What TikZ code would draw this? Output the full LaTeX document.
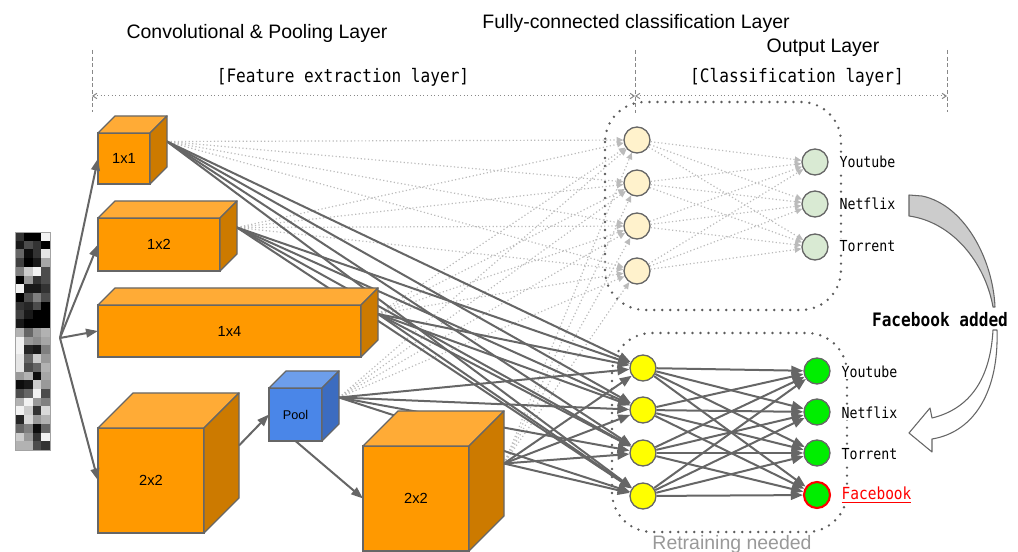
\documentclass[tikz,border=0pt]{standalone}
\usepackage{fontspec}
\setmainfont{Liberation Sans}
\setmonofont[FakeStretch=0.87]{DejaVu Sans Mono}
\usetikzlibrary{arrows.meta,calc,backgrounds}

\definecolor{orfront}{HTML}{FF9900}
\definecolor{ortop}{HTML}{FFAB36}
\definecolor{orside}{HTML}{CC7A00}
\definecolor{blfront}{HTML}{4A86E8}
\definecolor{bltop}{HTML}{6D9EEB}
\definecolor{blside}{HTML}{3C6CC0}
\definecolor{edgegray}{HTML}{666666}
\definecolor{weakgray}{HTML}{BBBBBB}
\definecolor{dimgray}{HTML}{888888}
\definecolor{cream}{HTML}{FFF2CC}
\definecolor{palegreen}{HTML}{D9EAD3}
\definecolor{hotgreen}{HTML}{00EE00}
\definecolor{hotyellow}{HTML}{FFFF00}
\definecolor{retgray}{HTML}{999999}
\definecolor{fbred}{HTML}{FF0000}

\begin{document}
\begin{tikzpicture}[x=0.75pt,y=-0.75pt]
		\tikzset{neuron/.style = {shape=circle, draw=edgegray, line width=1pt, minimum size=19.5pt, inner sep=0pt},
			box/.style = {anchor=north west, draw=edgegray, line width=1pt, inner sep=0pt, outer sep=0pt, font=\fontsize{11}{13}\selectfont},
			face/.style = {draw=edgegray, line width=1pt, line join=round},
			conn/.style = {draw=edgegray, line width=1.5pt, -{Triangle[length=9pt,width=7pt]}},
			weak/.style = {draw=weakgray, line width=0.9pt, dash pattern=on 0.9pt off 1.8pt, -{Triangle[length=5pt,width=4.5pt]}},
			feed/.style = {draw=edgegray, line width=1.5pt, -{Triangle[length=9pt,width=6.5pt]}},
			groupbox/.style = {draw=edgegray!90!black, line width=2pt, line cap=round, dash pattern=on 0pt off 6pt, rounded corners=30pt},
			dimline/.style = {draw=dimgray, line width=0.75pt, dash pattern=on 3pt off 2pt},
			dimarrow/.style = {draw=dimgray, line width=0.75pt, dotted, {Straight Barb[length=3pt,width=4pt]}-{Straight Barb[length=3pt,width=4pt]}},
			title/.style = {font=\fontsize{14.6}{17}\selectfont},
			bracket/.style = {font=\ttfamily\fontsize{13.9}{16}\selectfont},
			cls/.style = {anchor=west, fill=white, inner sep=1pt, font=\ttfamily\fontsize{11.4}{13}\selectfont}}

		\useasboundingbox (0,0) rectangle (1018,552);

		% titles
		\node[title] (T_1) at (257,33) {Convolutional \& Pooling Layer};
		\node[title] (T_2) at (636,23) {Fully-connected classification Layer};
		\node[title] (T_3) at (823,48) {Output Layer};
		\node[bracket] (B_1) at (343,77) {[Feature extraction layer]};
		\node[bracket] (B_2) at (797,77) {[Classification layer]};

		\draw[dimline] (92,50) -- (92,112);
		\draw[dimline] (635,50) -- (635,113);
		\draw[dimline] (947,50) -- (947,112);
		\coordinate (D_1) at (92,96);
		\coordinate (D_2) at (635,96);
		\coordinate (D_3) at (947,96);
		\draw[dimarrow] (D_1) -- (D_2);
		\draw[dimarrow] (D_2) -- (D_3);

		% input column
		\foreach \row [count=\r] in {{80,100,100,5},{90,70,80,100},{60,95,80,10},{75,100,90,35},{50,20,5,70},
			{100,40,80,70},{5,90,90,80},{100,70,50,70},{80,85,70,100},{75,90,100,100},{90,100,100,100},
			{30,60,40,30},{5,40,45,35},{5,85,90,50},{10,60,20,40},{10,70,60,30},{40,30,95,35},{95,90,20,40},
			{70,60,5,70},{30,5,40,50},{5,20,80,15},{85,15,40,30},{60,50,95,60},{20,40,80,5},{30,30,70,80}}
			\foreach \v [count=\col] in \row
				\fill[black!\v] ({15+(\col-1)*8.75},{232+(\r-1)*8.72}) rectangle ++(8.75,8.72);
		\draw[edgegray!60, line width=0.6pt] (15,232) rectangle (50,450);
		\coordinate (In) at (60,338);

		% conv and pooling blocks
		\foreach \nm/\px/\py/\cw/\ch/\cd/\cf/\ct/\cs/\lbl in {
			1/98/133/52/51/17/orfront/ortop/orside/1x1,
			2/98/218/122/53/17/orfront/ortop/orside/1x2,
			3/98/305/263/52/17/orfront/ortop/orside/1x4,
			4/98/428/106/105/35/orfront/ortop/orside/2x2,
			5/269/388/53/53/17/blfront/bltop/blside/{\fontsize{9.5}{11}\selectfont Pool},
			6/363/446/106/105/35/orfront/ortop/orside/2x2}
		{
			\node[box, fill=\cf, minimum width={\cw*0.75pt}, minimum height={\ch*0.75pt}] (C_\nm) at (\px,\py) {\lbl};
			\draw[face, fill=\ct] (C_\nm.north west) -- ++(\cd,-\cd) -- ++(\cw,0) -- (C_\nm.north east) -- cycle;
			\draw[face, fill=\cs] (C_\nm.north east) -- ++(\cd,-\cd) -- ++(0,\ch) -- (C_\nm.south east) -- cycle;
			\coordinate (S_\nm) at ($(C_\nm.east)+(\cd,-\cd)$);
		}

		\draw[feed] (In) -- (C_1.west);
		\draw[feed] (In) -- (C_2.west);
		\draw[feed] (In) -- (C_3.west);
		\draw[feed] (In) -- (C_4.west);
		\draw[feed] (S_4) -- (C_5.west);
		\draw[feed] (C_5.south) -- (C_6.west);

		% old network
		\node[neuron, fill=cream] (H_1) at (637,140) {};
		\node[neuron, fill=cream] (H_2) at (637,183) {};
		\node[neuron, fill=cream] (H_3) at (637,226) {};
		\node[neuron, fill=cream] (H_4) at (637,271) {};

		\node[neuron, fill=palegreen] (O_1) at (815,162) {};
		\node[neuron, fill=palegreen] (O_2) at (815,204) {};
		\node[neuron, fill=palegreen] (O_3) at (815,247) {};

		% retrained network
		\node[neuron, fill=hotyellow] (R_1) at (643,368) {};
		\node[neuron, fill=hotyellow] (R_2) at (643,410) {};
		\node[neuron, fill=hotyellow] (R_3) at (643,453) {};
		\node[neuron, fill=hotyellow] (R_4) at (643,496) {};

		\node[neuron, fill=hotgreen] (P_1) at (817,371) {};
		\node[neuron, fill=hotgreen] (P_2) at (817,412) {};
		\node[neuron, fill=hotgreen] (P_3) at (817,453) {};
		\node[neuron, fill=hotgreen, draw=fbred, line width=1.6pt] (P_4) at (817,495) {};

		\begin{pgfonlayer}{background}
			\draw[groupbox] (605,102) rectangle (841,310);
			\draw[groupbox] (612,333) rectangle (847,532);
			\foreach \s in {1,2,3,5,6}
				\foreach \k in {1,...,4}
					\draw[weak] (S_\s) -- (H_\k);
			\foreach \k in {1,...,4}
				\foreach \j in {1,2,3}
					\draw[weak] (H_\k) -- (O_\j);
			\foreach \s in {1,2,3,5,6}
				\foreach \k in {1,...,4}
					\draw[conn] (S_\s) -- (R_\k);
			\foreach \k in {1,...,4}
				\foreach \j in {1,...,4}
					\draw[conn] (R_\k) -- (P_\j);
		\end{pgfonlayer}

		\node[cls] (L_1) at (838,162) {Youtube};
		\node[cls] (L_2) at (838,204) {Netflix};
		\node[cls] (L_3) at (838,246) {Torrent};

		\node[cls] (M_1) at (840,372) {Youtube};
		\node[cls] (M_2) at (840,413) {Netflix};
		\node[cls] (M_3) at (840,454) {Torrent};
		\node[cls, text=fbred, font=\ttfamily\fontsize{12.5}{14}\selectfont] (M_4) at (840,495) {\underline{Facebook}};

		\node[text=retgray, anchor=base, font=\fontsize{14.6}{17}\selectfont] (Rt) at (732,549) {Retraining needed};

		% update arrows
		\node[font=\ttfamily\bfseries\fontsize{13.9}{16}\selectfont] (Fa) at (940,320) {Facebook added};
		\draw[edgegray, fill=black!20, line width=0.8pt, line join=round]
			(909,195) -- (922,196) .. controls (965,205) and (993,260) .. (995,307)
			-- (993,307) .. controls (985,262) and (952,222) .. (909,216) -- cycle;
		\draw[edgegray, fill=white, line width=0.8pt, line join=round]
			(993,330) -- (997,330) .. controls (999,390) and (975,432) .. (932,439)
			-- (932,452) -- (909,433) -- (930,408) -- (932,418)
			.. controls (965,410) and (990,385) .. (993,330) -- cycle;

	\end{tikzpicture}
\end{document}
